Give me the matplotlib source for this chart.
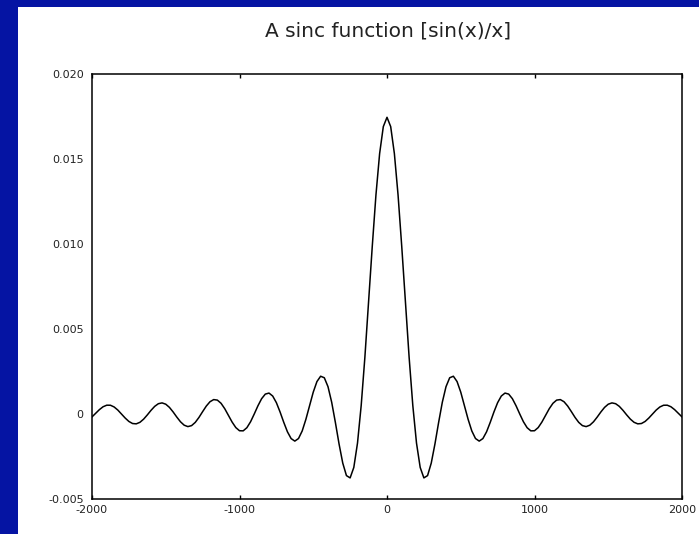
import matplotlib.pyplot as plt

# values (x in -2000..2000, step 25)
x_pos = [0, 25, 50, 75, 100, 125, 150, 175, 200, 225, 250, 275, 300, 325, 350,
         375, 400, 425, 450, 475, 500, 525, 550, 575, 600, 625, 650, 675, 700,
         725, 750, 775, 800, 825, 850, 875, 900, 925, 950, 975, 1000, 1025,
         1050, 1075, 1100, 1125, 1150, 1175, 1200, 1225, 1250, 1275, 1300,
         1325, 1350, 1375, 1400, 1425, 1450, 1475, 1500, 1525, 1550, 1575,
         1600, 1625, 1650, 1675, 1700, 1725, 1750, 1775, 1800, 1825, 1850,
         1875, 1900, 1925, 1950, 1975, 2000]
y_pos = [0.017453, 0.016905, 0.015321, 0.012879, 0.009848, 0.006553, 0.003333,
         0.000498, -0.001710, -0.003143, -0.003759, -0.003623, -0.002887,
         -0.001765, -0.000496, 0.000690, 0.001607, 0.002132, 0.002222,
         0.001908, 0.001286, 0.000493, -0.000316, -0.000998, -0.001443,
         -0.001594, -0.001446, -0.001048, -0.000489, 0.000120, 0.000667,
         0.001057, 0.001231, 0.001171, 0.000901, 0.000483, 0.0, -0.000457,
         -0.000806, -0.000991, -0.000985, -0.000799, -0.000476, -0.000081,
         0.000311, 0.000629, 0.000817, 0.000848, 0.000722, 0.000468, 0.000139,
         -0.000203, -0.000494, -0.000684, -0.000741, -0.000659, -0.000459,
         -0.000182, 0.000120, 0.000389, 0.000577, 0.000653, 0.000606,
         0.000449, 0.000214, -0.000054, -0.000303, -0.000489, -0.000579,
         -0.000560, -0.000438, -0.000238, 0.0, 0.000232, 0.000414, 0.000515,
         0.000518, 0.000426, 0.000256, 0.000044, -0.000171]

# curve is symmetric about x = 0
x_vals = [-v for v in x_pos[:0:-1]] + x_pos
y_vals = y_pos[:0:-1] + y_pos

x_ticks = [-2000, -1000, 0, 1000, 2000]
x_ticklabels = ['-2000', '-1000', '0', '1000', '2000']
y_ticks = [-0.005, 0, 0.005, 0.010, 0.015, 0.020]
y_ticklabels = ['-0.005', '0', '0.005', '0.010', '0.015', '0.020']

fig = plt.figure(figsize=(6.99, 5.34), dpi=100)
fig.patch.set_facecolor('#0514A3')
# white panel (blue strip only on top and left)
fig.patches.append(plt.Rectangle((18 / 699, 0), 1, 1 - 7 / 534,
                                 transform=fig.transFigure,
                                 facecolor='white', edgecolor='none', zorder=-10))

ax = fig.add_axes([92 / 699, 1 - 499 / 534, 590 / 699, 425 / 534])
ax.plot(x_vals, y_vals, color='black', linewidth=1.1)

ax.set_xlim(-2000, 2000)
ax.set_ylim(-0.005, 0.020)
ax.set_xticks(x_ticks)
ax.set_xticklabels(x_ticklabels)
ax.set_yticks(y_ticks)
ax.set_yticklabels(y_ticklabels)
ax.tick_params(axis='x', direction='in', top=True, length=3, width=1,
               labelsize=8, pad=4, labelcolor='#222222')
ax.tick_params(axis='y', length=0, labelsize=8, pad=6, labelcolor='#222222')
for sp in ax.spines.values():
    sp.set_linewidth(1.1)

fig.text(388 / 699, 1 - 31 / 534, 'A sinc function [sin(x)/x]',
         ha='center', va='center', fontsize=14.5, color='#222222')

fig.savefig('out.png', dpi=100, facecolor=fig.get_facecolor())
